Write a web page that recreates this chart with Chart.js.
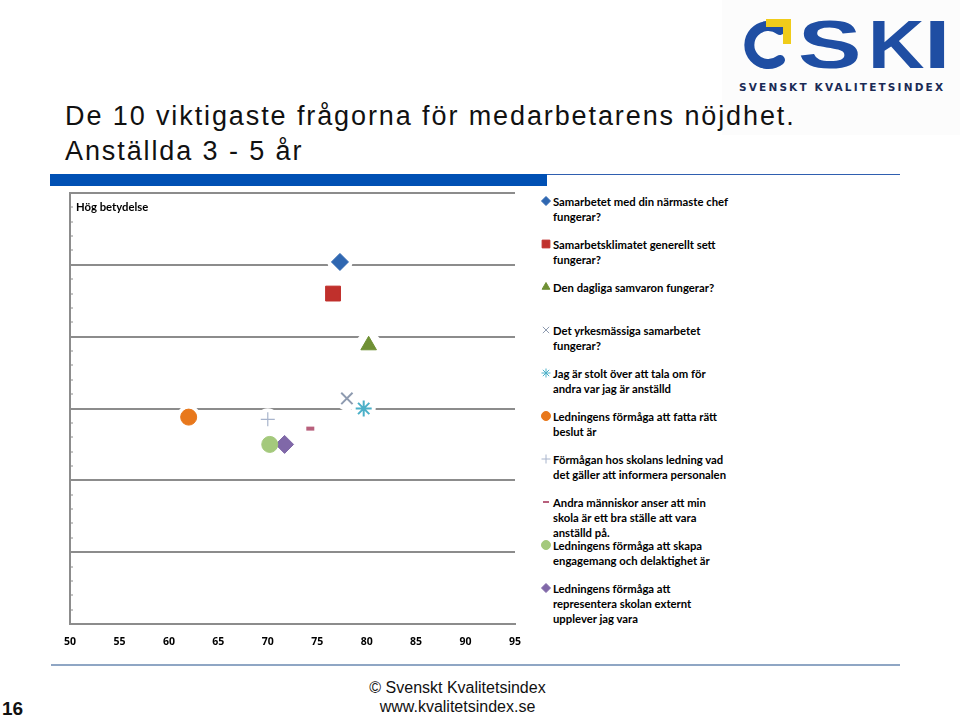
<!DOCTYPE html>
<html lang="sv">
<head>
<meta charset="UTF-8">
<title>De 10 viktigaste frågorna</title>
<script src="https://cdn.jsdelivr.net/npm/chart.js"></script>
<style>
  body { margin:0; width:960px; height:719px; background:#fff; position:relative; overflow:hidden; font-family:"Liberation Sans", Arial, sans-serif; }
  .title { position:absolute; left:65px; top:99px; font-size:27px; line-height:35px; color:#111; letter-spacing:1.9px; z-index:2; white-space:nowrap; }
  .logo { position:absolute; left:722px; top:0; width:238px; height:135px; background:#fcfcfc; }
  .bluebar { position:absolute; left:50px; top:174px; width:497px; height:12px; background:#0050b4; }
  .blueline { position:absolute; left:547px; top:174px; width:353px; height:1px; background:#2f5fb0; }
  .footline { position:absolute; left:51px; top:664px; width:849px; height:2px; background:#8fa6c4; }
  .foot { position:absolute; left:0; width:915px; text-align:center; font-size:16px; color:#111; }
  .pagenr { position:absolute; left:2px; top:698px; font-size:19px; font-weight:bold; color:#111; }
  #wrap { position:absolute; left:0; top:180px; width:540px; height:480px; }
  .hog { position:absolute; left:76px; top:200px; font-family:Lato, sans-serif; font-weight:bold; font-size:11.3px; color:#000; }
  #legend { position:absolute; left:540px; top:194px; width:210px; font-family:Lato, sans-serif; font-weight:bold; font-size:11.3px; color:#000; }
  #legend .item { position:relative; height:43px; padding-left:13px; line-height:15px; }
  #legend canvas { position:absolute; left:0; top:1px; }
</style>
</head>
<body>

<div class="title">De 10 viktigaste frågorna för medarbetarens nöjdhet.<br>Anställda 3 - 5 år</div>

<div class="logo">
  <svg width="238" height="135" viewBox="0 0 238 135">
    <path d="M 58 30 A 19 19 0 1 0 58 60" fill="none" stroke="#1f4ea3" stroke-width="10" stroke-linecap="round"/>
    <path d="M 44 19 L 69 19 L 69 44 L 61 44 L 61 27 L 44 27 Z" fill="#f0cc1a"/>
    <g font-family="Liberation Sans, Arial" font-weight="bold" font-size="68" fill="#1f4ea3">
      <text transform="translate(76,68) scale(1.4,1)">S</text>
      <text transform="translate(146,68) scale(1.15,1)">K</text>
      <text transform="translate(202,68) scale(1.4,1)">I</text>
    </g>
    <text x="17" y="91" font-family="DejaVu Sans, Arial" font-weight="bold" font-size="10.5" fill="#1a2a55" textLength="204">SVENSKT KVALITETSINDEX</text>
  </svg>
</div>

<div class="bluebar"></div>
<div class="blueline"></div>

<div id="wrap"><canvas id="myChart" width="540" height="480"></canvas></div>
<div class="hog">Hög betydelse</div>
<div id="legend"></div>

<div class="footline"></div>
<div class="foot" style="top:679px">© Svenskt Kvalitetsindex</div>
<div class="foot" style="top:698px">www.kvalitetsindex.se</div>
<div class="pagenr">16</div>

<script>
// frågor (serier)
const fragor = [
  ["Samarbetet med din närmaste chef", "fungerar?"],
  ["Samarbetsklimatet generellt sett", "fungerar?"],
  ["Den dagliga samvaron fungerar?"],
  ["Det yrkesmässiga samarbetet", "fungerar?"],
  ["Jag är stolt över att tala om för", "andra var jag är anställd"],
  ["Ledningens förmåga att fatta rätt", "beslut är"],
  ["Förmågan hos skolans ledning vad", "det gäller att informera personalen"],
  ["Andra människor anser att min", "skola är ett bra ställe att vara", "anställd på."],
  ["Ledningens förmåga att skapa", "engagemang och delaktighet är"],
  ["Ledningens förmåga att", "representera skolan externt", "upplever jag vara"]
];
// betyg (x) och betydelse (y)
const betyg     = [77.3, 76.6, 80.2, 78.0, 79.7, 62.0, 70.0, 74.3, 70.2, 71.7];
const betydelse = [25.2, 23.0, 19.4, 15.7, 15.0, 14.4, 14.25, 13.6, 12.5, 12.5];
const xTicks = [50, 55, 60, 65, 70, 75, 80, 85, 90, 95];

const stilar  = ["rectRot", "rect", "triangle", "crossRot", "star", "circle", "cross", "line", "circle", "rectRot"];
const farger  = ["#2f67b1", "#c0302c", "#6f9034", "#8e9bb0", "#4bb0c8", "#e8781c", "#a8b4cc", "#b8607c", "#a4c97c", "#8068a8"];
const storlek = [8.5, 10.5, 9, 8, 8, 8, 7, 4, 8, 9];
const linje   = [1, 1, 1, 2, 2, 1, 1.2, 4, 1, 1];

const datasets = fragor.map((f, i) => ({
  label: f.join(" "),
  data: [{ x: betyg[i], y: betydelse[i] }],
  pointStyle: stilar[i],
  pointRadius: storlek[i],
  pointHoverRadius: storlek[i],
  backgroundColor: farger[i],
  borderColor: farger[i],
  pointBorderWidth: linje[i]
}));

// vit ring runt markörerna så att linjerna bryts
const halo = {
  id: "halo",
  beforeDatasetsDraw(chart) {
    const ctx = chart.ctx;
    ctx.save();
    ctx.fillStyle = "#fff";
    chart.data.datasets.forEach((ds, i) => {
      chart.getDatasetMeta(i).data.forEach(p => {
        ctx.beginPath();
        ctx.arc(p.x, p.y, ds.pointRadius + 4, 0, Math.PI * 2);
        ctx.fill();
      });
    });
    ctx.restore();
  }
};

const ctx = document.getElementById("myChart").getContext("2d");
const chart = new Chart(ctx, {
  type: "scatter",
  data: { datasets: datasets },
  plugins: [halo],
  options: {
    responsive: false,
    animation: false,
    layout: { padding: { left: 0, top: 13, right: 25, bottom: 6 } },
    plugins: { legend: { display: false }, tooltip: { enabled: false } },
    scales: {
      x: {
        min: 50, max: 95,
        afterFit: s => { s.height = 30; },
        afterBuildTicks: s => { s.ticks = xTicks.map(v => ({ value: v })); },
        grid: { display: false, drawTicks: false },
        border: { display: true, color: "#8c8c8c", width: 2 },
        ticks: { padding: 12, color: "#000", font: { family: "Open Sans", weight: "bold", size: 10.5 } }
      },
      y: {
        min: 0, max: 30,
        afterFit: s => { s.width = 70; },
        ticks: { stepSize: 1, display: false },
        grid: {
          lineWidth: 2,
          color: c => (c.tick && c.tick.value % 5 === 0 && c.tick.value > 0) ? "#8c8c8c" : "rgba(0,0,0,0)",
          tickColor: "#8c8c8c",
          tickWidth: 1,
          tickLength: -3
        },
        border: { display: true, color: "#8c8c8c", width: 2 }
      }
    }
  }
});

// förklaring
const legend = document.getElementById("legend");
fragor.forEach((f, i) => {
  const item = document.createElement("div");
  item.className = "item";
  const c = document.createElement("canvas");
  c.width = 12; c.height = 12;
  const g = c.getContext("2d");
  g.fillStyle = farger[i]; g.strokeStyle = farger[i]; g.lineWidth = i === 7 ? 2 : 1;
  Chart.helpers.drawPoint(g, { pointStyle: stilar[i], radius: stilar[i] === "line" ? 3 : (stilar[i] === "rect" ? 5.5 : 4.5), borderWidth: g.lineWidth }, 6, 6);
  item.appendChild(c);
  item.insertAdjacentHTML("beforeend", f.join("<br>"));
  legend.appendChild(item);
});
</script>
</body>
</html>
